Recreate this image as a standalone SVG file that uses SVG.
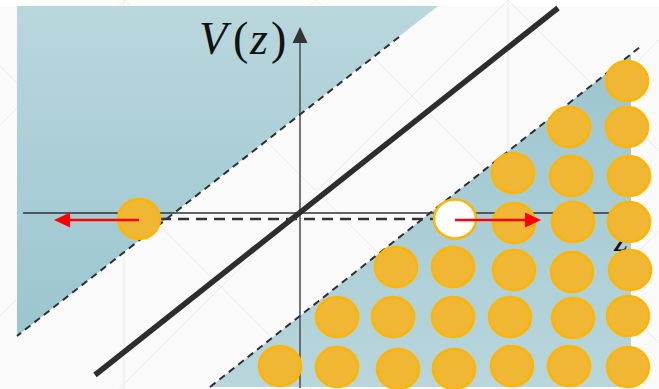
<svg xmlns="http://www.w3.org/2000/svg" width="659" height="389" viewBox="0 0 659 389">
  <style>
    .bgline { stroke: #ebebeb; stroke-width: 1; fill: none; }
    .slant { stroke: #2f2f2f; stroke-width: 2; stroke-dasharray: 7 5; fill: none; }
    .hdash { stroke: #333; stroke-width: 2.5; stroke-dasharray: 11 7; fill: none; }
    .ball { fill: #efb733; stroke: #ffb400; stroke-width: 2.5; }
    .hole { fill: #ffffff; stroke: #ffb400; stroke-width: 2.5; }
    .arrow { stroke: #ff0000; stroke-width: 2.5; fill: none; }
    .head { fill: #ff0000; }
    .lbl { font-family: "Liberation Serif", "DejaVu Serif", serif; fill: #111; }
  </style>
  <defs>
    <linearGradient id="gLeft" x1="0" y1="0" x2="0" y2="1">
      <stop offset="0" stop-color="#b9d7dd"/>
      <stop offset="1" stop-color="#9bc5cf"/>
    </linearGradient>
    <linearGradient id="gRight" x1="0" y1="0" x2="0" y2="1">
      <stop offset="0" stop-color="#9cc5cf"/>
      <stop offset="1" stop-color="#b8d6dc"/>
    </linearGradient>
  </defs>

  <g id="background">
    <rect x="0" y="0" width="659" height="389" fill="#fafafa"/>
    <rect x="0" y="0" width="659" height="6" fill="#ffffff"/>
    <line class="bgline" x1="124" y1="0" x2="124" y2="389"/>
    <line class="bgline" x1="508" y1="0" x2="508" y2="389"/>
    <line class="bgline" x1="125" y1="0" x2="-264" y2="389"/>
    <line class="bgline" x1="125" y1="0" x2="514" y2="389"/>
    <line class="bgline" x1="316" y1="0" x2="-73" y2="389"/>
    <line class="bgline" x1="316" y1="0" x2="705" y2="389"/>
    <line class="bgline" x1="508" y1="0" x2="119" y2="389"/>
    <line class="bgline" x1="508" y1="0" x2="897" y2="389"/>
    <line class="bgline" x1="699" y1="0" x2="310" y2="389"/>
    <line class="bgline" x1="-66" y1="0" x2="323" y2="389"/>
    <line class="bgline" x1="890" y1="0" x2="501" y2="389"/>
  </g>

  <g id="region-left">
    <polygon points="17,6 438,6 17,336" fill="url(#gLeft)"/>
  </g>
  <g id="region-right">
    <polygon points="210,387 631,54 631,387" fill="url(#gRight)"/>
  </g>

  <g id="axes">
    <line x1="23" y1="213" x2="612" y2="213" stroke="#333" stroke-width="1.3"/>
    <line x1="300" y1="388" x2="300" y2="42" stroke="#555" stroke-width="1.6"/>
    <polygon points="300,27 292.5,43 307.5,43" fill="#333"/>
    <text class="lbl" font-size="46" y="54"><tspan x="199" font-style="italic">V</tspan><tspan x="233">(</tspan><tspan x="250" font-style="italic">z</tspan><tspan x="271">)</tspan></text>
    <text class="lbl" font-size="36" font-style="italic" x="614" y="251">z</text>
  </g>

  <g id="connectors">
    <line class="slant" x1="399" y1="37" x2="17" y2="336"/>
    <line class="slant" x1="210" y1="387" x2="640" y2="47"/>
    <line x1="558" y1="8" x2="95" y2="375" stroke="#2d2d2d" stroke-width="5.5"/>
    <line class="hdash" x1="160" y1="219" x2="440" y2="219"/>
  </g>

  <g id="particle-left">
    <ellipse class="ball" cx="139" cy="219" rx="21" ry="20"/>
    <line class="arrow" x1="139" y1="220" x2="68" y2="220"/>
    <polygon class="head" points="54,220 70,212.5 70,227.5"/>
  </g>

  <g id="hole">
    <ellipse class="hole" cx="455" cy="219" rx="21" ry="19.5"/>
  </g>

  <g id="sea">
    <ellipse class="ball" cx="627" cy="81" rx="21" ry="20"/>
    <ellipse class="ball" cx="569" cy="127" rx="21" ry="20"/>
    <ellipse class="ball" cx="627" cy="127" rx="21" ry="20"/>
    <ellipse class="ball" cx="513" cy="173" rx="21" ry="20"/>
    <ellipse class="ball" cx="571" cy="176" rx="21" ry="20"/>
    <ellipse class="ball" cx="629" cy="176" rx="21" ry="20"/>
    <ellipse class="ball" cx="514" cy="223" rx="21" ry="20"/>
    <ellipse class="ball" cx="573" cy="222" rx="21" ry="20"/>
    <ellipse class="ball" cx="629" cy="222" rx="21" ry="20"/>
    <ellipse class="ball" cx="396" cy="267" rx="21" ry="20"/>
    <ellipse class="ball" cx="453" cy="267" rx="21" ry="20"/>
    <ellipse class="ball" cx="514" cy="270" rx="21" ry="20"/>
    <ellipse class="ball" cx="572" cy="272" rx="21" ry="20"/>
    <ellipse class="ball" cx="630" cy="270" rx="21" ry="20"/>
    <ellipse class="ball" cx="337" cy="317" rx="21" ry="20"/>
    <ellipse class="ball" cx="393" cy="317" rx="21" ry="20"/>
    <ellipse class="ball" cx="453" cy="317" rx="21" ry="20"/>
    <ellipse class="ball" cx="510" cy="317" rx="21" ry="20"/>
    <ellipse class="ball" cx="573" cy="318" rx="21" ry="20"/>
    <ellipse class="ball" cx="628" cy="316" rx="21" ry="20"/>
    <ellipse class="ball" cx="280" cy="366" rx="21" ry="20"/>
    <ellipse class="ball" cx="337" cy="367" rx="21" ry="20"/>
    <ellipse class="ball" cx="398" cy="369" rx="21" ry="20"/>
    <ellipse class="ball" cx="454" cy="369" rx="21" ry="20"/>
    <ellipse class="ball" cx="512" cy="366" rx="21" ry="20"/>
    <ellipse class="ball" cx="569" cy="366" rx="21" ry="20"/>
    <ellipse class="ball" cx="628" cy="367" rx="21" ry="20"/>
  </g>

  <g id="particle-right-arrow">
    <line class="arrow" x1="455" y1="220" x2="527" y2="220"/>
    <polygon class="head" points="541,220 525,212.5 525,227.5"/>
  </g>
</svg>
